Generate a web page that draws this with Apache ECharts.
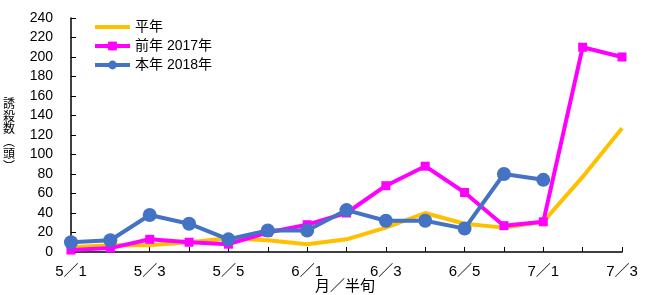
<!DOCTYPE html>
<html>
<head>
<meta charset="utf-8">
<script src="https://cdn.jsdelivr.net/npm/echarts@6/dist/echarts.min.js"></script>
<style>
  html, body { margin: 0; padding: 0; background: #fff; }
  #main { width: 648px; height: 295px; }
</style>
</head>
<body>
<div id="main"></div>
<script>
// 月／半旬
var categories = ['5／1', '5／2', '5／3', '5／4', '5／5', '5／6',
                  '6／1', '6／2', '6／3', '6／4', '6／5', '6／6',
                  '7／1', '7／2', '7／3'];
var heinen = [5, 7, 7, 10, 14, 12, 8, 13, 25, 40, 29, 25, 31, 77, 127];
var zennen2017 = [2, 4, 13, 10, 8, 20, 28, 40, 68, 88, 61, 27, 31, 210, 200];
var honnen2018 = [10, 12, 38, 29, 13, 22, 22, 43, 32, 32, 24, 80, 74, null, null];

var myChart = echarts.init(document.getElementById('main'));

var font = '"Liberation Sans", "Noto Sans CJK JP", sans-serif';

var option = {
    animation: false,
    textStyle: { fontFamily: font },
    grid: { left: 71, right: 26, top: 18, bottom: 43, outerBoundsMode: 'none' },
    legend: {
        orient: 'vertical',
        left: 88,
        top: 15,
        itemWidth: 35,
        itemHeight: 11,
        itemGap: 5,
        textStyle: { fontSize: 14, color: '#000', fontFamily: font },
        data: [
            { name: '平年', itemStyle: { opacity: 0 }, lineStyle: { width: 4 } },
            { name: '前年 2017年', lineStyle: { width: 4 } },
            { name: '本年 2018年', lineStyle: { width: 4 } }
        ]
    },
    // 横軸タイトル
    graphic: [{
        type: 'text',
        x: 345,
        y: 285,
        style: {
            text: '月／半旬',
            fontSize: 15,
            fill: '#000',
            fontFamily: '"Noto Sans CJK JP"',
            align: 'center',
            verticalAlign: 'middle'
        }
    }],
    xAxis: {
        type: 'category',
        data: categories,
        boundaryGap: false,
        axisLine: { lineStyle: { color: '#000', width: 1.5 } },
        axisTick: { inside: true, length: 5, interval: 0, lineStyle: { color: '#000' } },
        axisLabel: { interval: 1, fontSize: 15, color: '#000', margin: 12 }
    },
    yAxis: {
        type: 'value',
        min: 0,
        max: 240,
        interval: 20,
        // 縦書き
        name: '誘\n殺\n数\n︵\n頭\n︶',
        nameLocation: 'middle',
        nameRotate: 0,
        nameGap: 56,
        nameTextStyle: {
            fontSize: 12,
            lineHeight: 12.5,
            color: '#000',
            fontFamily: '"Noto Sans CJK JP"',
            padding: [0, 0, 16, 0]
        },
        splitLine: { show: false },
        axisLine: { show: true, lineStyle: { color: '#000', width: 1.5 } },
        axisTick: { show: true, inside: true, length: 5, lineStyle: { color: '#000' } },
        axisLabel: { fontSize: 14, color: '#000', margin: 8, padding: [0, 10, 0, 0] }
    },
    series: [
        {
            name: '平年',
            type: 'line',
            data: heinen,
            showSymbol: false,
            symbol: 'none',
            color: '#FFC000',
            lineStyle: { width: 4, color: '#FFC000' }
        },
        {
            name: '前年 2017年',
            type: 'line',
            data: zennen2017,
            symbol: 'rect',
            symbolSize: 9,
            color: '#FF00FF',
            lineStyle: { width: 4, color: '#FF00FF' },
            itemStyle: { color: '#FF00FF' }
        },
        {
            name: '本年 2018年',
            type: 'line',
            data: honnen2018,
            symbol: 'circle',
            symbolSize: 14,
            color: '#4472C4',
            lineStyle: { width: 4, color: '#4472C4' },
            itemStyle: { color: '#4472C4' }
        }
    ]
};
myChart.setOption(option);
</script>
</body>
</html>
